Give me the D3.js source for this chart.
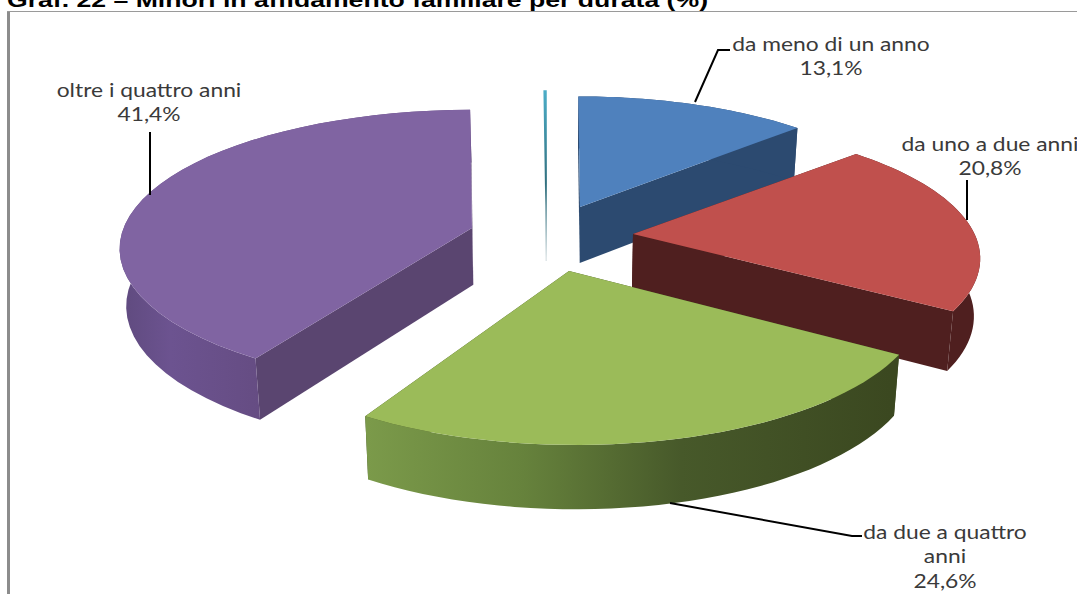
<!DOCTYPE html>
<html>
<head>
<meta charset="utf-8">
<script src="https://cdn.jsdelivr.net/npm/d3@7"></script>
<style>
  html, body { margin: 0; padding: 0; background: #fff; overflow: hidden; }
  svg { display: block; }
</style>
</head>
<body>
<div id="chart"></div>
<script>
// chart data
var categories = ["da meno di un anno", "da uno a due anni", "da due a quattro anni", "oltre i quattro anni", ""];
var values = [13.1, 20.8, 24.6, 41.4, 0.1];
var labelLines = [["da meno di un anno"], ["da uno a due anni"], ["da due a quattro", "anni"], ["oltre i quattro anni"], []];

// colors for each slice: top, cut face
var topColors = ["#4f81bd", "#c0504d", "#9bbb59", "#8064a2", "#4bacc6"];
var cutColors = ["#2c4a70", "#4f1f1f", "#3e4c22", "#5a4570", "#31859c"];

// where every exploded slice has its tip
var tipX = [580, 633, 569, 472, 546];
var tipY = [207, 234, 271, 228, 205];
var labelX = [831, 990, 945, 149];
var labelY = [51, 151, 539, 97];
var leaders = [
  [[695, 102], [718, 50], [730, 50]],
  [[967, 220], [967, 180]],
  [[670, 503], [852, 536], [862, 536]],
  [[150, 195], [150, 132]]
];

// small per slice corrections of the 3D projection
var spreadX = [0.97, 0.99, 1.01, 1.01, 1];
var spreadY = [0.97, 0.98, 1.06, 1.01, 1];
var shear = [0.015, 0, 0.042, 0, 0];
var perspective = [0.18, 0.18, 0.18, 0.15, 0.18];
var startShift = [0, 0, 0, 0.04, 0];

var areaWidth = 1077;
var areaHeight = 594;
var radiusX = 345;
var squash = 0.39;

var svg = d3.select("#chart").append("svg")
  .attr("width", areaWidth)
  .attr("height", areaHeight);

// frame of the scanned page
svg.append("rect").attr("x", 7).attr("y", 11).attr("width", 3).attr("height", 583).style("fill", "#8c8c8c");
svg.append("rect").attr("x", 7).attr("y", 11).attr("width", 1070).attr("height", 1).style("fill", "#9a9a9a");

svg.append("text")
  .text("Graf. 22 \u2013 Minori in affidamento familiare per durata (%)")
  .attr("x", 7)
  .attr("y", 7)
  .attr("textLength", 701)
  .attr("lengthAdjust", "spacingAndGlyphs")
  .style("font-family", "'Liberation Sans', Arial, sans-serif")
  .style("font-weight", "bold")
  .style("font-size", "21px")
  .style("fill", "#000");

// gradients for the round outer walls
var defs = svg.append("defs");
function addGradient(id, x1, x2, stops) {
  var g = defs.append("linearGradient")
    .attr("id", id)
    .attr("gradientUnits", "userSpaceOnUse")
    .attr("x1", x1).attr("x2", x2).attr("y1", 0).attr("y2", 0);
  stops.forEach(function (s) {
    g.append("stop").attr("offset", s[0]).attr("stop-color", s[1]);
  });
  return "url(#" + id + ")";
}
var wallColors = [
  cutColors[0],
  cutColors[1],
  addGradient("wall-green", 367, 890, [[0, "#7b9a4a"], [0.3, "#66823c"], [0.6, "#47592a"], [1, "#3b4820"]]),
  addGradient("wall-purple", 120, 265, [[0, "#5f4a7e"], [0.35, "#6c5390"], [1, "#654c82"]]),
  cutColors[4]
];
var tealFade = defs.append("linearGradient").attr("id", "teal-fade")
  .attr("gradientUnits", "userSpaceOnUse")
  .attr("x1", 0).attr("x2", 0).attr("y1", 92).attr("y2", 258);
tealFade.append("stop").attr("offset", 0).attr("stop-color", "#4bacc6");
tealFade.append("stop").attr("offset", 0.55).attr("stop-color", "#31707f");
tealFade.append("stop").attr("offset", 1).attr("stop-color", "#dfe6e8");

var pie = d3.pie().sort(null).value(function (d) { return d; });
var arcs = pie(values);
var line = d3.line();

// point of the top surface for angle a of slice i, r=1 on the rim
function topPoint(i, a, r) {
  var w = 1 / (1 + perspective[i] * Math.cos(a));
  var dx = r * radiusX * spreadX[i] * w * Math.sin(a);
  var dy = -r * radiusX * squash * spreadY[i] * w * Math.cos(a);
  return [tipX[i] + dx + shear[i] * dy, tipY[i] + dy];
}

// same point pushed down to the bottom surface
function lower(p) {
  return [560 + (p[0] - 560) * 0.985, p[1] + 56 + 0.035 * (p[1] - 207)];
}

function drawSlice(i) {
  var a = arcs[i];
  var start = a.startAngle + startShift[i];
  var tip = topPoint(i, 0, 0);
  var rim = d3.range(0, 41).map(function (k) {
    return topPoint(i, start + (a.endAngle - start) * k / 40, 1);
  });
  var g = svg.append("g").attr("class", "slice");

  if (i == 4) {
    // the tiny slice, only its cut face shows
    g.append("path")
      .attr("d", line([rim[0], rim[40], lower(tip), tip]) + "Z")
      .style("fill", "url(#teal-fade)")
      .style("stroke", "url(#teal-fade)")
      .style("stroke-width", 1.5);
    return;
  }

  var first = rim[0], last = rim[40];
  g.append("path")
    .attr("d", line([tip, first, lower(first), lower(tip)]) + "Z")
    .style("fill", cutColors[i]);
  g.append("path")
    .attr("d", line([tip, last, lower(last), lower(tip)]) + "Z")
    .style("fill", cutColors[i]);
  g.append("path")
    .attr("d", line(rim.concat(rim.map(lower).reverse())) + "Z")
    .style("fill", wallColors[i]);
  g.append("path")
    .attr("d", line([tip].concat(rim)) + "Z")
    .style("fill", topColors[i]);
}

[4, 0, 3, 1, 2].forEach(drawSlice);

// leader lines
leaders.forEach(function (pts) {
  svg.append("path")
    .attr("d", line(pts))
    .style("fill", "none")
    .style("stroke", "#000")
    .style("stroke-width", 2);
});

// labels: category lines then the percentage, stretched like the scan
labelLines.forEach(function (lines, i) {
  if (!lines.length) return;
  var text = svg.append("text")
    .attr("text-anchor", "middle")
    .attr("transform", "translate(" + labelX[i] + ",0) scale(1.17,1)")
    .style("font-family", "Lato, 'Noto Sans', sans-serif")
    .style("font-size", "19.5px")
    .style("fill", "#3a3a3a");
  lines.concat([values[i].toFixed(1).replace(".", ",") + "%"]).forEach(function (t, j) {
    text.append("tspan")
      .attr("x", 0)
      .attr("y", labelY[i] + j * 24.5)
      .text(t);
  });
});
</script>
</body>
</html>
